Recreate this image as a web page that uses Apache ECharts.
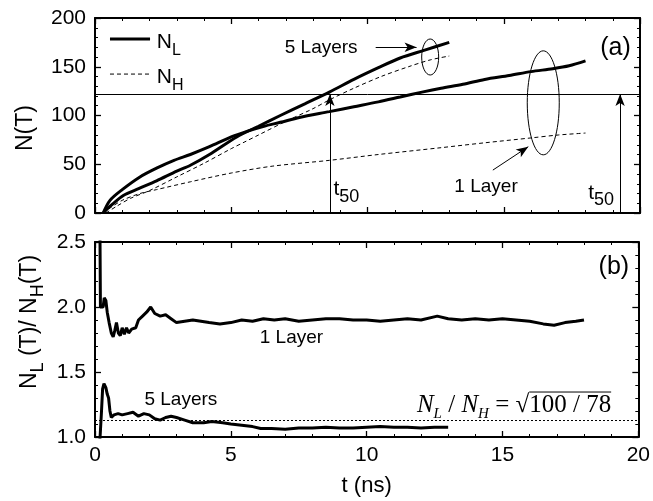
<!DOCTYPE html>
<html>
<head>
<meta charset="utf-8">
<script src="https://cdn.jsdelivr.net/npm/echarts@6/dist/echarts.min.js"></script>
<style>
html, body { margin: 0; padding: 0; background: #fff; }
#chart { width: 653px; height: 501px; }
</style>
</head>
<body>
<div id="chart"></div>
<script>
// panel (a): N(T) vs t (ns)
var oneLayerNL = [[0.3,0],[0.55,13],[1.0,24],[1.65,37],[2.26,46],[2.9,54],[3.5,60],[4.2,68],[5.0,78],[5.6,84],[6.2,89],[6.8,93],[7.5,98],[8.6,104],[9.5,109],[10.4,114],[11.2,119],[12.0,124],[12.7,128],[13.5,132],[14.3,137],[15.2,141],[16.0,145],[16.8,148],[17.4,151],[18.0,156]];
var oneLayerNH = [[0.3,0],[0.6,6],[1.0,13],[1.65,20],[2.26,24],[3.5,32],[5.0,41],[6.5,48],[8.6,54],[10.4,60],[12.7,67],[14.3,72],[16.0,77],[17.0,80],[18.0,82]];
var fiveLayerNL = [[0.3,0],[0.6,8],[1.04,18],[1.6,25],[2.26,33],[3.0,43],[3.5,49],[4.2,60],[5.2,78],[6.0,89],[6.8,100],[7.7,112],[8.6,124],[9.5,137],[10.4,149],[11.2,159],[12.1,167],[13.0,175]];
var fiveLayerNH = [[0.4,0],[0.8,7],[1.3,15],[2.0,23],[3.0,37],[4.0,51],[5.0,66],[5.5,73],[6.0,80],[7.0,94],[8.0,107],[8.6,116],[9.5,128],[10.5,140],[11.5,150],[12.3,157],[13.0,161]];
var t50Level = 122;
var t50Times = [8.62, 19.27];

// panel (b): N_L / N_H vs t (ns)
var oneLayerRatio = [[0.12,3.0],[0.15,2.6],[0.17,3.0],[0.2,2.0],[0.3,2.0],[0.34,2.07],[0.4,2.05],[0.45,1.96],[0.52,1.88],[0.6,1.8],[0.67,1.77],[0.73,1.82],[0.79,1.88],[0.86,1.8],[0.93,1.78],[1.0,1.84],[1.08,1.79],[1.16,1.84],[1.24,1.8],[1.35,1.83],[1.5,1.84],[1.6,1.9],[1.75,1.93],[1.9,1.96],[2.05,2.0],[2.2,1.95],[2.4,1.93],[2.6,1.94],[2.8,1.91],[3.0,1.88],[3.3,1.89],[3.6,1.9],[3.9,1.89],[4.2,1.88],[4.6,1.87],[5.0,1.88],[5.4,1.9],[5.8,1.89],[6.2,1.91],[6.6,1.9],[7.0,1.91],[7.5,1.89],[8.0,1.9],[8.5,1.91],[9.0,1.91],[9.5,1.9],[10.0,1.9],[10.5,1.89],[11.0,1.9],[11.5,1.91],[12.0,1.9],[12.6,1.93],[13.0,1.91],[13.5,1.9],[14.0,1.91],[14.5,1.9],[15.0,1.91],[15.5,1.9],[16.0,1.89],[16.5,1.87],[16.9,1.86],[17.3,1.88],[17.7,1.89],[18.0,1.9]];
var fiveLayerRatio = [[0.16,0.9],[0.2,1.05],[0.24,1.2],[0.28,1.37],[0.33,1.41],[0.4,1.38],[0.45,1.33],[0.5,1.3],[0.55,1.2],[0.6,1.15],[0.7,1.17],[0.85,1.18],[1.0,1.17],[1.2,1.18],[1.4,1.19],[1.6,1.16],[1.8,1.18],[2.0,1.17],[2.2,1.14],[2.4,1.13],[2.6,1.15],[2.8,1.16],[3.0,1.15],[3.3,1.13],[3.6,1.11],[4.0,1.11],[4.3,1.12],[4.7,1.11],[5.0,1.1],[5.4,1.09],[5.8,1.08],[6.1,1.065],[6.5,1.065],[7.0,1.06],[7.5,1.07],[8.0,1.07],[8.5,1.075],[9.0,1.07],[9.5,1.07],[10.0,1.075],[10.5,1.08],[11.0,1.075],[11.5,1.075],[12.0,1.07],[12.5,1.075],[13.0,1.075]];
var ratioRef = Math.sqrt(100 / 78);

var font = 'Liberation Sans';

function xAx(grid, pos, labels) {
    return {
        type: 'value', gridIndex: grid, position: pos, min: 0, max: 20, interval: 5,
        axisLine: { show: true, onZero: false, lineStyle: { color: '#000', width: 2 } },
        axisTick: { show: true, inside: true, length: 6, lineStyle: { color: '#000', width: 1.3 } },
        minorTick: { show: true, splitNumber: 5, length: 3, lineStyle: { color: '#000', width: 1 } },
        splitLine: { show: false },
        axisLabel: { show: labels, color: '#000', fontSize: 21, fontFamily: font, margin: 8 }
    };
}
function yAx(grid, pos, labels, min, max, step) {
    return {
        type: 'value', gridIndex: grid, position: pos, min: min, max: max, interval: step,
        axisLine: { show: true, onZero: false, lineStyle: { color: '#000', width: 2 } },
        axisTick: { show: true, inside: true, length: 6, lineStyle: { color: '#000', width: 1.3 } },
        minorTick: { show: true, splitNumber: 5, length: 3, lineStyle: { color: '#000', width: 1 } },
        splitLine: { show: false },
        axisLabel: { show: labels, color: '#000', fontSize: 21, fontFamily: font, margin: 9,
            formatter: step < 1 ? function (v) { return v.toFixed(1); } : null }
    };
}

var xB = xAx(1, 'bottom', true);
xB.name = 't (ns)';
xB.nameLocation = 'middle';
xB.nameGap = 38;
xB.nameTextStyle = { color: '#000', fontSize: 22, fontFamily: font };

var arrowLine = { color: '#000', width: 1, type: 'solid' };

var option = {
    animation: false,
    backgroundColor: '#fff',
    grid: [
        { left: 95, top: 18, width: 545, height: 195 },
        { left: 95, top: 242, width: 545, height: 195 }
    ],
    xAxis: [xAx(0, 'bottom', false), xAx(0, 'top', false), xB, xAx(1, 'top', false)],
    yAxis: [yAx(0, 'left', true, 0, 200, 50), yAx(0, 'right', false, 0, 200, 50),
            yAx(1, 'left', true, 1, 2.5, 0.5), yAx(1, 'right', false, 1, 2.5, 0.5)],
    series: [
        {
            name: '1 Layer NL', type: 'line', xAxisIndex: 0, yAxisIndex: 0, data: oneLayerNL,
            showSymbol: false, smooth: 0.3, lineStyle: { color: '#000', width: 3 },
            markLine: {
                silent: true, symbol: ['none', 'arrow'], symbolSize: [7, 12],
                label: { show: false }, lineStyle: arrowLine,
                data: [
                    [{ coord: [0, t50Level], symbol: 'none' }, { coord: [20, t50Level], symbol: 'none' }],
                    [{ coord: [t50Times[0], 0] }, { coord: [t50Times[0], t50Level] }],
                    [{ coord: [t50Times[1], 0] }, { coord: [t50Times[1], t50Level] }],
                    [{ coord: [14.6, 44] }, { coord: [15.9, 68] }],
                    [{ coord: [10.3, 170] }, { coord: [11.8, 170] }]
                ]
            }
        },
        {
            name: '1 Layer NH', type: 'line', xAxisIndex: 0, yAxisIndex: 0, data: oneLayerNH,
            showSymbol: false, smooth: 0.3, lineStyle: { color: '#000', width: 1, type: [4, 3] }
        },
        {
            name: '5 Layers NL', type: 'line', xAxisIndex: 0, yAxisIndex: 0, data: fiveLayerNL,
            showSymbol: false, smooth: 0.3, lineStyle: { color: '#000', width: 3 }
        },
        {
            name: '5 Layers NH', type: 'line', xAxisIndex: 0, yAxisIndex: 0, data: fiveLayerNH,
            showSymbol: false, smooth: 0.3, lineStyle: { color: '#000', width: 1, type: [4, 3] }
        },
        {
            name: '1 Layer ratio', type: 'line', xAxisIndex: 2, yAxisIndex: 2, data: oneLayerRatio,
            showSymbol: false, lineStyle: { color: '#000', width: 3 },
            markLine: {
                silent: true, symbol: 'none', label: { show: false },
                lineStyle: { color: '#000', width: 1, type: [2, 2] },
                data: [[{ coord: [0, ratioRef] }, { coord: [20, ratioRef] }]]
            }
        },
        {
            name: '5 Layers ratio', type: 'line', xAxisIndex: 2, yAxisIndex: 2, data: fiveLayerRatio,
            showSymbol: false, lineStyle: { color: '#000', width: 3 }
        }
    ]
};

var chart = echarts.init(document.getElementById('chart'));
chart.setOption(option);

function pa(p) { return chart.convertToPixel({ xAxisIndex: 0, yAxisIndex: 0 }, p); }
function pb(p) { return chart.convertToPixel({ xAxisIndex: 2, yAxisIndex: 2 }, p); }

var subRich = {
    n: { fontSize: 21, fontFamily: font, fill: '#000', lineHeight: 32, verticalAlign: 'middle' },
    s: { fontSize: 16, fontFamily: font, fill: '#000', lineHeight: 15, verticalAlign: 'bottom' },
    s2: { fontSize: 18, fontFamily: font, fill: '#000', lineHeight: 16, verticalAlign: 'bottom' },
    y: { fontSize: 23, fontFamily: font, fill: '#000', lineHeight: 34, verticalAlign: 'middle' },
    ys: { fontSize: 18, fontFamily: font, fill: '#000', lineHeight: 16, verticalAlign: 'bottom' }
};
function label(pt, str, align, size) {
    return {
        type: 'text', silent: true, z: 100,
        style: { x: pt[0], y: pt[1], text: str, fill: '#000', fontSize: size || 21, fontFamily: font,
            align: align || 'center', verticalAlign: 'middle', rich: subRich }
    };
}
function vlabel(x, y, str) {
    return {
        type: 'text', silent: true, z: 100, x: x, y: y, rotation: Math.PI / 2,
        style: { x: 0, y: 0, text: str, fill: '#000', fontSize: 23, fontFamily: font,
            align: 'center', verticalAlign: 'middle', rich: subRich }
    };
}

var l1 = pa([0.55, 178.5]), l2 = pa([2.02, 178.5]);
var d1 = pa([0.55, 142.5]), d2 = pa([2.02, 142.5]);
var e1 = pa([12.3, 160]), e2 = pa([16.45, 113]);

// formula with a root bar over 100 / 78
var ctx = document.createElement('canvas').getContext('2d');
ctx.font = '25px "Liberation Serif"';
var radW = ctx.measureText('100 / 78').width;
var fR = pb([19.0, 1.246]);

var graphics = [
    vlabel(26, 128, '{y|N(T)}'),
    vlabel(30, 322, '{y|N}{ys|L}{y| (T)/ N}{ys|H}{y|(T)}'),
    { type: 'line', silent: true, shape: { x1: l1[0], y1: l1[1], x2: l2[0], y2: l2[1] }, style: { stroke: '#000', lineWidth: 3 } },
    { type: 'line', silent: true, shape: { x1: d1[0], y1: d1[1], x2: d2[0], y2: d2[1] }, style: { stroke: '#000', lineWidth: 1, lineDash: [4, 3] } },
    label(pa([2.27, 175]), '{n|N}{s|L}', 'left'),
    label(pa([2.27, 139]), '{n|N}{s|H}', 'left'),
    label(pa([8.3, 169]), '5 Layers', 'center', 19),
    label(pa([14.35, 27]), '1 Layer', 'center', 19),
    label(pa([8.75, 24]), '{n|t}{s2|50}', 'left'),
    label(pa([18.1, 20]), '{n|t}{s2|50}', 'left'),
    label(pa([19.1, 169]), '(a)', 'center', 25),
    { type: 'ellipse', silent: true, shape: { cx: e1[0], cy: e1[1], rx: 8.5, ry: 18 }, style: { fill: 'none', stroke: '#000', lineWidth: 1 } },
    { type: 'ellipse', silent: true, shape: { cx: e2[0], cy: e2[1], rx: 16, ry: 52 }, style: { fill: 'none', stroke: '#000', lineWidth: 1 } },
    label(pb([19.1, 2.31]), '(b)', 'center', 25),
    label(pb([7.23, 1.76]), '1 Layer', 'center', 19),
    label(pb([3.16, 1.285]), '5 Layers', 'center', 19),
    {
        type: 'text', silent: true, z: 100,
        style: {
            x: fR[0], y: fR[1], align: 'right', verticalAlign: 'middle', fill: '#000',
            text: '{i|N}{s|L}{r| / }{i|N}{s|H}{r| = √100 / 78}',
            rich: {
                i: { fontSize: 25, fontFamily: 'Liberation Serif', fontStyle: 'italic', fill: '#000', lineHeight: 34, verticalAlign: 'middle' },
                s: { fontSize: 15, fontFamily: 'Liberation Serif', fontStyle: 'italic', fill: '#000', lineHeight: 13, verticalAlign: 'bottom' },
                r: { fontSize: 25, fontFamily: 'Liberation Serif', fill: '#000', lineHeight: 34, verticalAlign: 'middle' }
            }
        }
    },
    { type: 'line', silent: true, shape: { x1: fR[0] - radW, y1: fR[1] - 13, x2: fR[0], y2: fR[1] - 13 }, style: { stroke: '#000', lineWidth: 1 } }
];
chart.setOption({ graphic: graphics });
</script>
</body>
</html>
